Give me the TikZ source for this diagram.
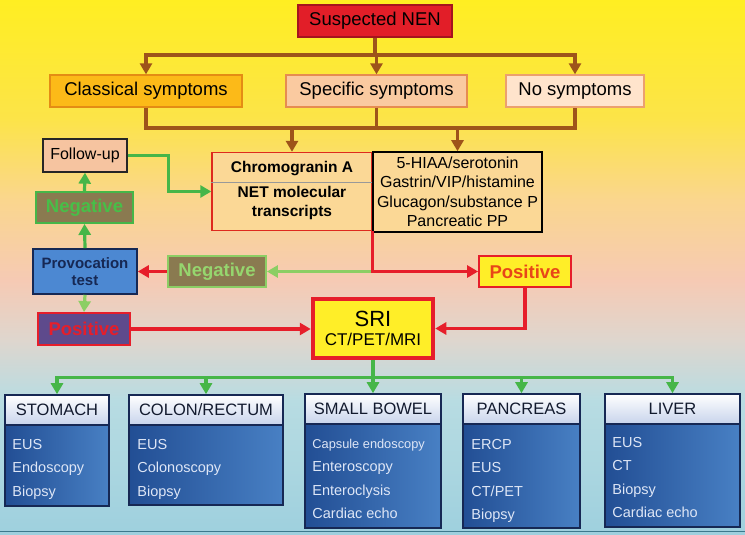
\documentclass[tikz,border=0pt]{standalone}
\usepackage{fontspec}
\setmainfont{Liberation Sans}
\definecolor{bgyellow}{RGB}{255,238,34}
\definecolor{bglemon}{RGB}{252,228,72}
\definecolor{bgpeach}{RGB}{250,214,142}
\definecolor{bgpink}{RGB}{246,202,180}
\definecolor{bggrey}{RGB}{222,214,206}
\definecolor{bgcyan}{RGB}{184,220,226}
\definecolor{bgblue}{RGB}{158,208,222}
\definecolor{nenred}{RGB}{226,30,40}
\definecolor{nenedge}{RGB}{165,20,30}
\definecolor{classfill}{RGB}{252,186,24}
\definecolor{classedge}{RGB}{228,140,20}
\definecolor{specfill}{RGB}{250,202,160}
\definecolor{specedge}{RGB}{230,140,80}
\definecolor{nofill}{RGB}{255,228,204}
\definecolor{noedge}{RGB}{236,160,110}
\definecolor{brownln}{RGB}{158,84,26}
\definecolor{labfill}{RGB}{251,216,150}
\definecolor{labred}{RGB}{222,42,30}
\definecolor{greenln}{RGB}{70,182,72}
\definecolor{ltgreen}{RGB}{140,206,100}
\definecolor{redln}{RGB}{230,30,42}
\definecolor{oliv}{RGB}{138,122,80}
\definecolor{negtext}{RGB}{72,190,72}
\definecolor{negtextlt}{RGB}{150,214,110}
\definecolor{provblue}{RGB}{76,136,210}
\definecolor{navy}{RGB}{22,40,84}
\definecolor{postext}{RGB}{232,70,24}
\definecolor{posyellow}{RGB}{255,238,40}
\definecolor{purp}{RGB}{94,74,140}
\definecolor{orgdark}{RGB}{34,78,148}
\definecolor{orglight}{RGB}{72,128,196}
\definecolor{headblue}{RGB}{200,212,236}
\definecolor{listtext}{RGB}{222,230,246}
\definecolor{headtext}{RGB}{18,26,46}
\definecolor{followfill}{RGB}{246,196,160}
\definecolor{footline}{RGB}{60,120,140}
\usetikzlibrary{arrows.meta}
\pgfdeclareverticalshading{bgfade}{100bp}{color(0bp)=(bgblue); color(25bp)=(bgblue);
	color(37.6bp)=(bgcyan); color(43.2bp)=(bggrey); color(48.8bp)=(bgpink);
	color(56.3bp)=(bgpeach); color(64bp)=(bglemon); color(75bp)=(bgyellow); color(100bp)=(bgyellow)}
\tikzset{
	box/.style={draw, line width=1.3pt, minimum height=32pt, inner sep=2pt,
		font=\fontsize{18.5}{20}\selectfont},
	tag/.style={draw, line width=1.8pt, minimum height=31pt, inner sep=1pt,
		font=\bfseries\fontsize{18.5}{20}\selectfont},
	brownline/.style={draw=brownln, line width=3.2pt},
	brownarrow/.style={brownline, -{Triangle[length=11pt,width=12pt]}},
	greenline/.style={draw=greenln, line width=3.2pt},
	greenarrow/.style={greenline, -{Triangle[length=11pt,width=12pt]}},
	ltgreenarrow/.style={draw=ltgreen, line width=3.2pt, -{Triangle[length=11pt,width=12pt]}},
	redarrow/.style={draw=redln, line width=3.2pt, -{Triangle[length=11pt,width=12pt]}},
	organ/.style={draw=navy, line width=1.6pt, left color=orgdark, right color=orglight},
	organhead/.style={draw=navy, line width=1.3pt, top color=white, bottom color=headblue,
		minimum height=30pt, anchor=north, text=headtext, font=\fontsize{16.5}{18}\selectfont},
	organlist/.style={anchor=north west, align=left, inner sep=0pt, text=listtext,
		font=\fontsize{14.5}{23.3}\selectfont}
}

\begin{document}
\begin{tikzpicture}[x=1pt,y=-1pt]
	\useasboundingbox (0,0) rectangle (745,535);
	\shade[shading=bgfade] (0,0) rectangle (745,535);
	\draw[color=footline,line width=1.5pt] (0,531.5) -- (745,531.5);

	% symptoms
	\node[box,fill=nenred,draw=nenedge,minimum width=154pt] (nen) at (375,21) {Suspected NEN};
	\node[box,fill=classfill,draw=classedge,minimum width=192pt] (classical) at (146,91) {Classical symptoms};
	\node[box,fill=specfill,draw=specedge,minimum width=181pt] (specific) at (376.5,91) {Specific symptoms};
	\node[box,fill=nofill,draw=noedge,minimum width=138pt] (nosym) at (575,91) {No symptoms};

	\coordinate (topbar) at (146,55);
	\coordinate (lowbar) at (146,128);
	\draw[brownline] (nen.south) -- (nen.south |- topbar);
	\draw[brownline,line cap=rect] (topbar) -- (topbar -| nosym.north);
	\draw[brownarrow] (topbar) -- (classical.north);
	\draw[brownarrow] (specific.north |- topbar) -- (specific.north);
	\draw[brownarrow] (nosym.north |- topbar) -- (nosym.north);
	\draw[brownline] (classical.south) -- (lowbar) -- (lowbar -| nosym.south) -- (nosym.south);
	\draw[brownline] (specific.south) -- (specific.south |- lowbar);

	% markers
	\node[draw=labred,fill=labfill,line width=1.4pt,minimum width=160pt,minimum height=78pt] (chromo) at (292,191.5) {};
	\node[font=\bfseries\fontsize{15.5}{17}\selectfont] (chromoA) at (292,169) {Chromogranin A};
	\draw[color=gray!80,line width=0.8pt] (chromo.west |- 0,182) -- (chromo.east |- 0,182);
	\node[align=center,font=\bfseries\fontsize{15.5}{19}\selectfont] (transcripts) at (292,202.5) {NET molecular\\transcripts};
	\node[draw=black,fill=labfill,line width=1.6pt,minimum width=169pt,minimum height=80pt,align=center,
		font=\fontsize{16}{19.5}\selectfont] (markers) at (457.5,192) {5-HIAA/serotonin\\Gastrin/VIP/histamine\\Glucagon/substance P\\Pancreatic PP};
	\draw[brownarrow] (chromo.north |- lowbar) -- (chromo.north);
	\draw[brownarrow] (markers.north |- lowbar) -- (markers.north);

	% left column
	\node[box,fill=followfill,draw=black!85,minimum width=84pt,minimum height=33pt,
		font=\fontsize{16}{18}\selectfont] (followup) at (85,155.5) {Follow-up};
	\node[tag,fill=oliv,draw=greenln,text=negtext,minimum width=97pt] (neg1) at (84.5,207.5) {Negative};
	\node[draw=navy,fill=provblue,line width=1.6pt,minimum width=104pt,minimum height=45pt,align=center,
		text=navy,font=\bfseries\fontsize{15}{17}\selectfont] (provo) at (85,271.5) {Provocation\\test};
	\node[tag,fill=oliv,draw=ltgreen,text=negtextlt,minimum width=98pt] (neg2) at (217,271.5) {Negative};
	\node[tag,fill=posyellow,draw=redln,text=postext,minimum width=92pt] (pos1) at (525,271.5) {Positive};
	\node[tag,fill=purp,draw=redln,text=redln,minimum width=92pt,minimum height=32pt] (pos2) at (84,329) {Positive};
	\node[draw=redln,fill=posyellow,line width=4.5pt,minimum width=120pt,minimum height=59pt,align=center]
		(sri) at (373,328.5) {\fontsize{22}{23}\selectfont SRI\\[5pt]\fontsize{17}{19}\selectfont CT/PET/MRI};

	\draw[greenarrow] (followup.east) -- ++(41,0) |- (chromo.west);
	\draw[greenarrow] (neg1.north) -- (followup.south);
	\draw[greenarrow] (provo.north) -- (neg1.south);
	\draw[ltgreenarrow] (provo.south) -- (pos2.north);
	\draw[ltgreenarrow] (chromo.south east |- neg2.east) -- (neg2.east);
	\draw[redarrow] (neg2.west) -- (provo.east);
	\draw[redarrow] (chromo.south east) |- (pos1.west);
	\draw[redarrow] (pos1.south) |- (sri.east);
	\draw[redarrow] (pos2.east) -- (pos2.east -| sri.west);

	% organs
	\node[organ,minimum width=104pt,minimum height=111pt] (stomach) at (57,450.5) {};
	\node[organhead,minimum width=104pt] (stomachhead) at (stomach.north) {STOMACH};
	\node[organlist] (stomachlist) at ([shift={(8,45)}]stomach.north west) {EUS\\Endoscopy\\Biopsy};

	\node[organ,minimum width=154pt,minimum height=110pt] (colon) at (206,450) {};
	\node[organhead,minimum width=154pt] (colonhead) at (colon.north) {COLON/RECTUM};
	\node[organlist] (colonlist) at ([shift={(9,45)}]colon.north west) {EUS\\Colonoscopy\\Biopsy};

	\node[organ,minimum width=136pt,minimum height=134pt] (bowel) at (373,461) {};
	\node[organhead,minimum width=136pt] (bowelhead) at (bowel.north) {SMALL BOWEL};
	\node[organlist] (bowellist) at ([shift={(8,46)}]bowel.north west)
		{\fontsize{12.8}{23.3}\selectfont Capsule endoscopy\\\fontsize{14.5}{23.3}\selectfont Enteroscopy\\Enteroclysis\\Cardiac echo};

	\node[organ,minimum width=117pt,minimum height=134pt] (pancreas) at (521.5,461) {};
	\node[organhead,minimum width=117pt] (pancreashead) at (pancreas.north) {PANCREAS};
	\node[organlist] (pancreaslist) at ([shift={(9,46)}]pancreas.north west) {ERCP\\EUS\\CT/PET\\Biopsy};

	\node[organ,minimum width=135pt,minimum height=133pt] (liver) at (672.5,460.5) {};
	\node[organhead,minimum width=135pt] (liverhead) at (liver.north) {LIVER};
	\node[organlist] (liverlist) at ([shift={(8,44)}]liver.north west) {EUS\\CT\\Biopsy\\Cardiac echo};

	\draw[greenline] (sri.south) -- ++(0,17) coordinate (organbar);
	\draw[greenline,line cap=rect] (organbar -| stomachhead.north) -- (organbar -| liverhead.north);
	\draw[greenarrow] (stomachhead.north |- organbar) -- (stomachhead.north);
	\draw[greenarrow] (colonhead.north |- organbar) -- (colonhead.north);
	\draw[greenarrow] (organbar) -- (bowelhead.north);
	\draw[greenarrow] (pancreashead.north |- organbar) -- (pancreashead.north);
	\draw[greenarrow] (liverhead.north |- organbar) -- (liverhead.north);
\end{tikzpicture}
\end{document}
